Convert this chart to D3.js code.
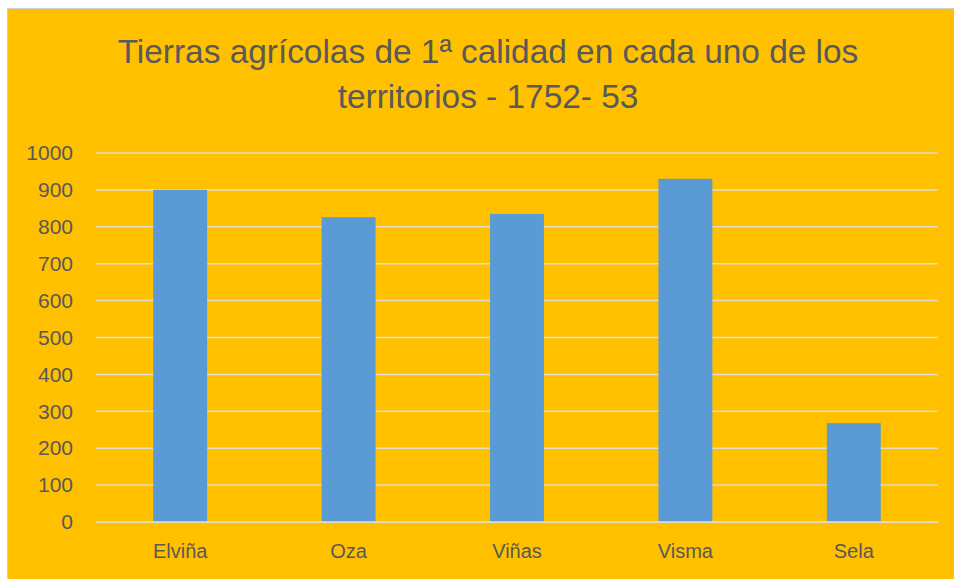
<!DOCTYPE html>
<html>
<head>
<meta charset="utf-8">
<script src="https://cdn.jsdelivr.net/npm/d3@7"></script>
<style>
  body { margin: 0; background: #fff; }
  text { font-family: "Liberation Sans", "DejaVu Sans", sans-serif; fill: #595959; }
</style>
</head>
<body>
<div id="chart"></div>
<script>
const titleLines = ["Tierras agrícolas de 1ª calidad en cada uno de los", "territorios - 1752- 53"];
const categories = ["Elviña", "Oza", "Viñas", "Visma", "Sela"];
const values = [900, 826, 835, 930, 268];
const yTicks = [0, 100, 200, 300, 400, 500, 600, 700, 800, 900, 1000];

const width = 954, height = 579;
const margin = { top: 153, right: 16, bottom: 57, left: 96 };

const svg = d3.select("#chart").append("svg")
    .attr("width", width)
    .attr("height", height);

// chart area with thin border
svg.append("rect")
    .attr("x", 7.5).attr("y", 8.5)
    .attr("width", width).attr("height", height)
    .attr("fill", "#FFC000")
    .attr("stroke", "#D0D0D0")
    .attr("stroke-width", 1);

const x = d3.scaleBand()
    .domain(categories)
    .range([margin.left, width - margin.right])
    .paddingInner(0.68)
    .paddingOuter(0.34);

const y = d3.scaleLinear()
    .domain([0, 1000])
    .range([height - margin.bottom, margin.top]);

// gridlines
svg.append("g")
    .selectAll("line")
    .data(yTicks)
    .enter().append("line")
    .attr("x1", margin.left)
    .attr("x2", width - margin.right)
    .attr("y1", d => y(d))
    .attr("y2", d => y(d))
    .attr("stroke", "#E2DCCB")
    .attr("stroke-width", 1.5);

// bars
svg.append("g")
    .selectAll("rect")
    .data(values)
    .enter().append("rect")
    .attr("x", (d, i) => x(categories[i]))
    .attr("width", x.bandwidth())
    .attr("y", d => y(d))
    .attr("height", d => y(0) - y(d))
    .attr("fill", "#5B9BD5");

// baseline on top of bars
svg.append("line")
    .attr("x1", margin.left)
    .attr("x2", width - margin.right)
    .attr("y1", y(0))
    .attr("y2", y(0))
    .attr("stroke", "#E2DCCB")
    .attr("stroke-width", 1.5);

// y axis labels
const yAxis = d3.axisLeft(y).tickValues(yTicks).tickFormat(d3.format("d")).tickSize(0).tickPadding(23);
svg.append("g")
    .attr("transform", `translate(${margin.left},0)`)
    .call(yAxis)
    .call(g => g.select(".domain").remove())
    .selectAll("text")
    .style("font-size", "21px")
    .style("font-family", null)
    .attr("fill", null);

// x axis labels
const xAxis = d3.axisBottom(x).tickSize(0).tickPadding(22);
svg.append("g")
    .attr("transform", `translate(0,${y(0)})`)
    .call(xAxis)
    .call(g => g.select(".domain").remove())
    .selectAll("text")
    .style("font-size", "20px")
    .style("font-family", null)
    .attr("fill", null);

// title
svg.append("g")
    .selectAll("text")
    .data(titleLines)
    .enter().append("text")
    .attr("x", 488)
    .attr("y", (d, i) => 63 + i * 45)
    .attr("text-anchor", "middle")
    .style("font-size", "33.4px")
    .text(d => d);
</script>
</body>
</html>
